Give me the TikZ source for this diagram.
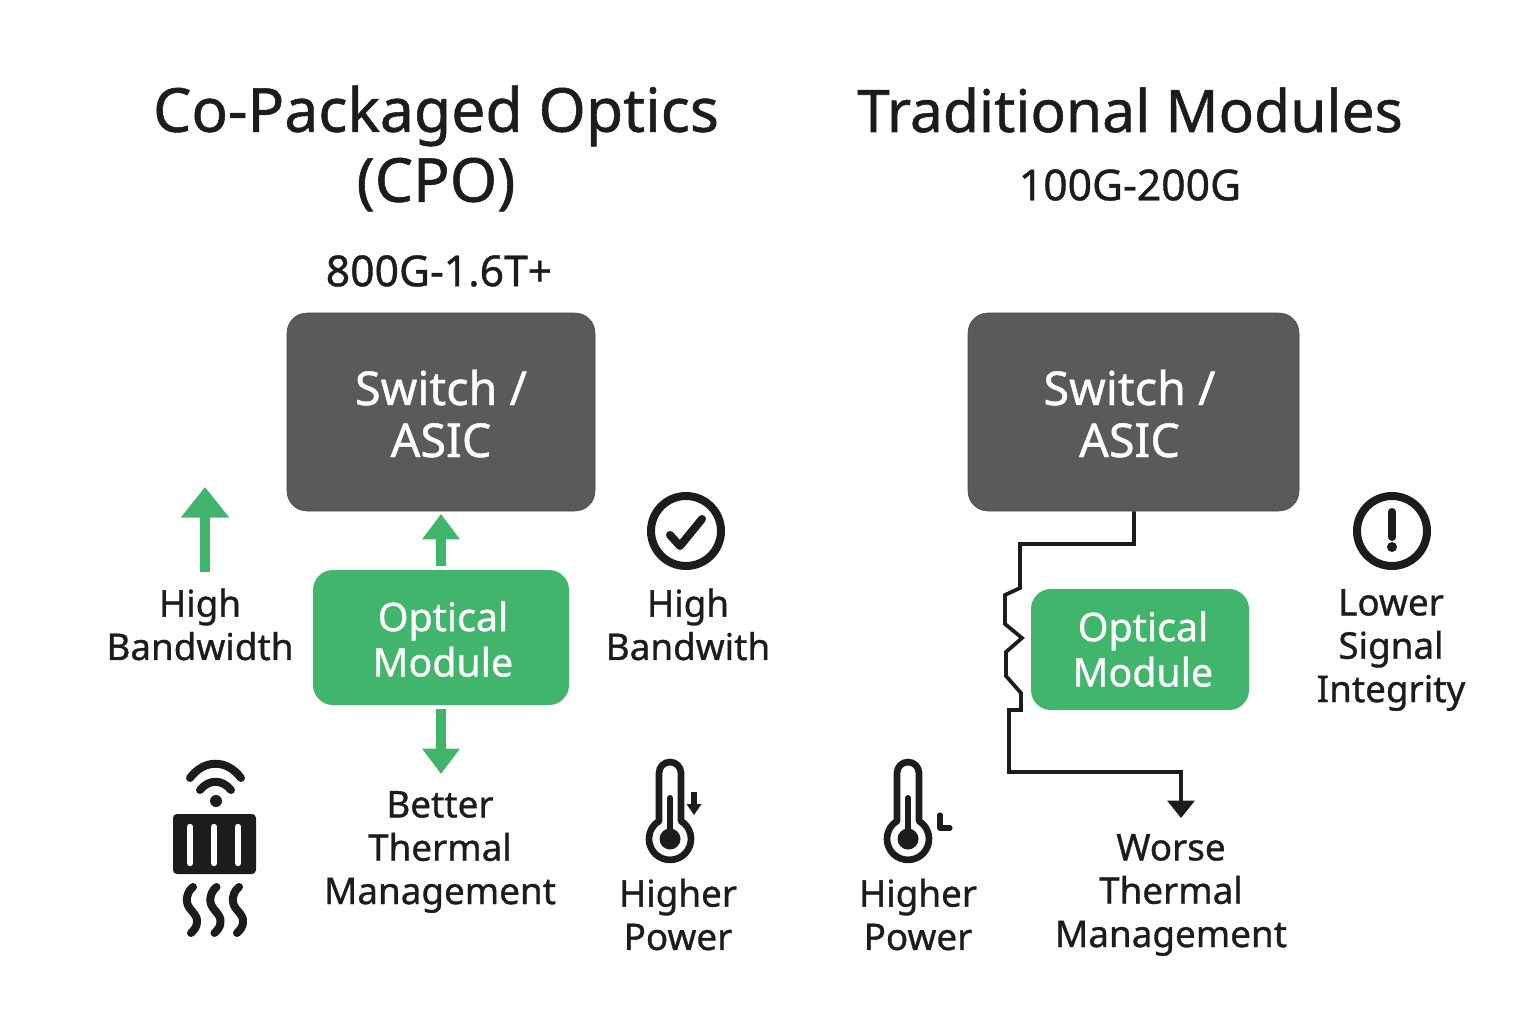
\documentclass[tikz,border=0pt]{standalone}
\usepackage{fontspec}
\setmainfont{Noto Sans}[FakeBold=0.9]
\usetikzlibrary{arrows.meta}
\definecolor{asicgray}{HTML}{5A5A5A}
\definecolor{modgreen}{HTML}{41B56B}
\definecolor{inkblack}{HTML}{1C1C1C}
\tikzset{
	titletext/.style={text=inkblack,align=center,font=\fontsize{44}{52.5}\selectfont},
	ratetext/.style={text=inkblack,align=center,font=\fontsize{32}{36}\selectfont},
	labeltext/.style={text=inkblack,align=center,font=\fontsize{27.6}{32.5}\selectfont},
	asicbox/.style={fill=asicgray,draw=asicgray!80!black,rounded corners=15pt,minimum height=148.5pt},
	asictext/.style={text=white,align=center,font=\fontsize{35}{39}\selectfont},
	modbox/.style={fill=modgreen,rounded corners=15pt},
	modtext/.style={text=white,align=center,font=\fontsize{29.5}{34}\selectfont},
	greenarrow/.style={draw=modgreen,line width=7.5pt,-{Triangle[length=19pt,width=27pt]}},
	bigarrow/.style={draw=modgreen,line width=7.5pt,-{Triangle[length=23pt,width=35pt]}},
	wire/.style={draw=inkblack,line width=2.8pt,line join=miter,-{Triangle[length=13pt,width=20pt]}},
	icon/.style={draw=inkblack,line width=6pt,line cap=round,line join=round},
	thermo/.pic={
		\draw[icon,line width=5pt] (-11,18) -- (-11,66) arc[start angle=180,end angle=0,radius=11] -- (11,18) arc[start angle=58.4,end angle=-238.4,radius=21] -- cycle;
		\fill[inkblack] (0,0) circle[radius=10.5];
		\draw[icon,line width=4.5pt] (0,0) -- (0,41);
	}
}
\begin{document}
\begin{tikzpicture}[x=0.75pt,y=0.75pt,yscale=-1]
	\useasboundingbox (0,0) rectangle (1536,1024);
	% left column
	\node[titletext,font=\fontsize{45.5}{52.5}\selectfont] (titleL) at (436,148.5) {Co-Packaged Optics\\(CPO)};
	\node[ratetext] (rateL) at (439,271) {800G-1.6T+};
	\node[asicbox,minimum width=231pt] (asicL) at (441,412) {};
	\node[asictext] (asicTextL) at (441,413.5) {Switch /\\ASIC};
	\node[modbox,minimum width=192pt,minimum height=101.25pt] (modL) at (441,637.5) {};
	\node[modtext] (modTextL) at (443,639) {Optical\\Module};
	\coordinate (upS) at (205,572);
	\coordinate (upE) at (205,487);
	\coordinate (downE) at (441,774);
	\draw[greenarrow,shorten <=3pt,shorten >=2pt] (modL.north) -- (asicL.south);
	\draw[greenarrow,shorten <=3pt] (modL.south) -- (downE);
	\draw[bigarrow] (upS) -- (upE);
	\node[labeltext] (bwL) at (200,624.5) {High\\Bandwidth};
	\node[labeltext] (bwR) at (688,624.5) {High\\Bandwith};
	\node[labeltext] (thermalL) at (440,852) {Better\\Thermal\\Management};
	\node[labeltext] (powerL) at (678,914.5) {Higher\\Power};
	% check mark
	\draw[icon] (686,531) circle[radius=35];
	\draw[icon] (670,535) -- (680,546) -- (702,519);
	% chip with wifi and heat
	\fill[inkblack] (216,801) circle[radius=6];
	\draw[icon] (200,790) .. controls (209,779) and (222,779) .. (231,790);
	\draw[icon] (190,778) .. controls (204,759) and (227,759) .. (241,778);
	\fill[inkblack,rounded corners=3pt] (173,814) rectangle (256,874);
	\foreach \sx in {190,214,238}
		\draw[line width=4.8pt,white,line cap=round] (\sx,827) -- (\sx,863);
	\foreach \wx in {0,23.5,46}
		\draw[icon,xshift=\wx*0.75pt] (193,887) .. controls (189,890) and (186,896) .. (187,902) .. controls (188,910) and (198,914) .. (197,922) .. controls (197,927) and (194,930) .. (191,933);
	% thermometers
	\pic at (670,839) {thermo};
	\draw[icon,line width=3.8pt,line cap=butt] (694,792) -- (694,806);
	\fill[inkblack] (686.5,804) -- (701.5,804) -- (694,815) -- cycle;
	\pic at (908,839) {thermo};
	\draw[icon,line width=3.8pt] (940,815) -- (940,828) -- (950,828);
	% right column
	\node[titletext] (titleR) at (1130,110) {Traditional Modules};
	\node[ratetext] (rateR) at (1130,185) {100G-200G};
	\node[asicbox,minimum width=248.25pt] (asicR) at (1133.5,412) {};
	\node[asictext] (asicTextR) at (1129.5,413.5) {Switch /\\ASIC};
	\node[modbox,minimum width=163.5pt,minimum height=90.75pt] (modR) at (1140,649.5) {};
	\node[modtext] (modTextR) at (1143,649) {Optical\\Module};
	\coordinate (wireE) at (1181,818);
	\draw[wire] (asicR.south -| 1134,0) -- (1134,544) -- (1020,544) -- (1020,588) -- (1005,595) -- (1005,624) -- (1022,638) -- (1006,652) -- (1006,676) -- (1021,693) -- (1021,710) -- (1009,710) -- (1009,772) -- (1181,772) -- (wireE);
	\node[labeltext] (sigR) at (1391,650) {Lower\\Signal\\Integrity};
	\node[labeltext] (powerR) at (918,914.5) {Higher\\Power};
	\node[labeltext] (thermalR) at (1171,895) {Worse\\Thermal\\Management};
	% warning mark
	\draw[icon] (1392,531) circle[radius=35];
	\draw[icon] (1392,512) -- (1392,537);
	\fill[inkblack] (1392,547) circle[radius=5];
\end{tikzpicture}
\end{document}
